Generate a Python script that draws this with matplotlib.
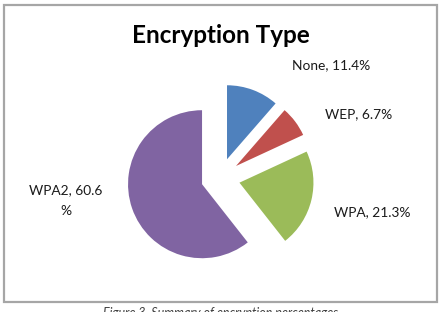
import matplotlib
matplotlib.use("Agg")
import matplotlib.pyplot as plt
from matplotlib.patches import Rectangle

categories = ["None", "WEP", "WPA", "WPA2"]
values = [11.4, 6.7, 21.3, 60.6]
colors = ["#4F81BD", "#C0504D", "#9BBB59", "#8064A2"]
title = "Encryption Type"
caption = "Figure 3. Summary of encryption percentages"

W, H = 444, 312
fig = plt.figure(figsize=(W / 100, H / 100), dpi=100)
ax = fig.add_axes([0, 0, 1, 1])

ax.pie(values, colors=colors, startangle=90, counterclock=False,
       center=(220, H - 178), radius=74, explode=[20, 20, 20, 19],
       wedgeprops=dict(linewidth=0), frame=True)
ax.set_xlim(0, W)
ax.set_ylim(0, H)
ax.set_aspect("equal")
ax.axis("off")

# chart border
ax.add_patch(Rectangle((4, H - 302), 433, 297, fill=False, edgecolor="#A6A6A6", lw=1.6))

ax.text(221, H - 43, title, ha="center", va="baseline", fontsize=17.5,
        fontweight="bold", family="Lato", color="black")

label_pos = [(331.5, 69), (359, 118), (372, 216.5), (66, 215)]
for cat, val, (lx, ly) in zip(categories, values, label_pos):
    s = f"{cat}, {val}%"
    if cat == "WPA2":
        s = f"{cat}, {val}\n%"
        ax.text(lx, H - ly, s, ha="center", va="baseline", fontsize=9.9,
                family="Lato", color="#1a1a1a", linespacing=1.85, multialignment="center")
    else:
        ax.text(lx, H - ly, s, ha="center", va="baseline", fontsize=9.9,
                family="Lato", color="#1a1a1a")

ax.text(221, H - 307, caption, ha="center", va="top", fontsize=9,
        family="Lato", style="italic", color="#404040")

fig.savefig("out.png", dpi=100)
